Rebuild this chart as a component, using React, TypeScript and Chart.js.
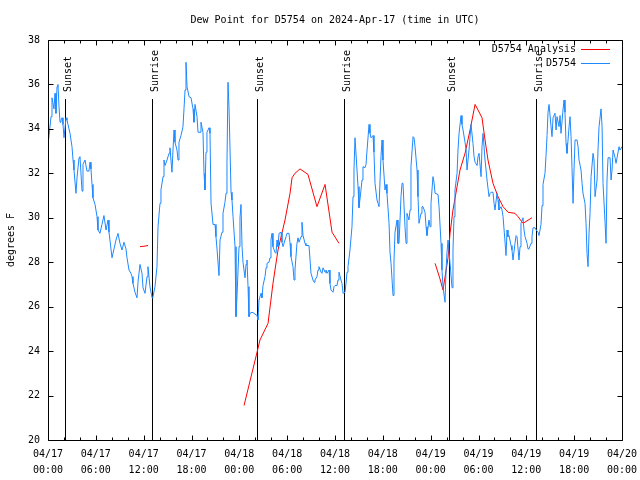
import React, { useEffect, useRef } from 'react';
import { Chart, registerables } from 'chart.js';

Chart.register(...registerables);

const FONT = "'DejaVu Sans Mono', 'Liberation Mono', monospace";

const titleText = 'Dew Point for D5754 on 2024-Apr-17 (time in UTC)';
const yAxisTitle = 'degrees F';
const seriesNames = ['D5754 Analysis', 'D5754'];
const seriesColors = ['#ff0000', '#1e88ff'];

// x axis: hours since 2024-04-17 00:00 UTC
const tickHours = [0, 6, 12, 18, 24, 30, 36, 42, 48, 54, 60, 66, 72];
const tickDates = ['04/17', '04/17', '04/17', '04/17', '04/18', '04/18', '04/18', '04/18', '04/19', '04/19', '04/19', '04/19', '04/20'];
const tickTimes = ['00:00', '06:00', '12:00', '18:00', '00:00', '06:00', '12:00', '18:00', '00:00', '06:00', '12:00', '18:00', '00:00'];
const yTicks = [20, 22, 24, 26, 28, 30, 32, 34, 36, 38];

const sunEventHours = [2.17, 13.08, 26.22, 37.17, 50.34, 61.15];
const sunEventLabels = ['Sunset', 'Sunrise', 'Sunset', 'Sunrise', 'Sunset', 'Sunrise'];
const sunLineTop = 35.33;

const dewHours = [
  0.00, 0.13, 0.38, 0.50, 0.75, 0.88, 1.00, 1.13, 1.25, 1.38,
  1.51, 1.63, 1.76, 1.88, 2.01, 2.26, 2.38, 2.51, 2.76, 3.01,
  3.14, 3.26, 3.51, 3.64, 3.89, 4.01, 4.27, 4.39, 4.64, 4.89,
  5.14, 5.27, 5.39, 5.52, 5.64, 5.90, 6.15, 6.27, 6.52, 6.77,
  7.02, 7.28, 7.53, 7.65, 7.90, 8.03, 8.28, 8.53, 8.78, 9.03,
  9.28, 9.53, 9.78, 9.91, 10.16, 10.41, 10.54, 10.66, 10.91, 11.16,
  11.29, 11.54, 11.79, 11.92, 12.17, 12.42, 12.54, 12.79, 13.05, 13.17,
  13.42, 13.67, 13.80, 14.05, 14.17, 14.43, 14.55, 14.68, 14.93, 15.18,
  15.30, 15.55, 15.68, 15.81, 15.93, 16.18, 16.31, 16.43, 16.68, 16.93,
  17.06, 17.19, 17.31, 17.44, 17.69, 17.94, 18.19, 18.31, 18.44, 18.69,
  18.82, 19.07, 19.19, 19.44, 19.57, 19.69, 19.82, 19.94, 20.20, 20.32,
  20.45, 20.70, 20.95, 21.07, 21.20, 21.45, 21.58, 21.83, 21.95, 22.20,
  22.33, 22.45, 22.58, 22.71, 22.96, 23.08, 23.21, 23.46, 23.58, 23.71,
  23.96, 24.08, 24.21, 24.34, 24.46, 24.71, 24.84, 24.96, 25.09, 25.21,
  25.34, 25.59, 25.84, 26.22, 26.34, 26.47, 26.72, 26.84, 26.97, 27.22,
  27.35, 27.47, 27.72, 27.85, 27.97, 28.10, 28.22, 28.47, 28.60, 28.73,
  28.85, 28.98, 29.23, 29.35, 29.48, 29.73, 29.86, 29.98, 30.23, 30.36,
  30.48, 30.73, 30.86, 30.98, 31.23, 31.36, 31.49, 31.74, 31.86, 31.99,
  32.24, 32.36, 32.74, 32.87, 32.99, 33.24, 33.37, 33.49, 33.74, 33.87,
  33.99, 34.25, 34.37, 34.50, 34.75, 34.87, 35.00, 35.25, 35.37, 35.50,
  35.75, 35.88, 36.00, 36.25, 36.38, 36.50, 36.75, 36.88, 37.01, 37.26,
  37.38, 37.51, 37.63, 37.88, 38.13, 38.26, 38.38, 38.51, 38.76, 38.89,
  39.01, 39.26, 39.39, 39.51, 39.76, 39.89, 40.02, 40.27, 40.39, 40.52,
  40.77, 40.89, 41.02, 41.27, 41.40, 41.52, 41.77, 41.90, 42.02, 42.27,
  42.40, 42.52, 42.78, 42.90, 43.03, 43.28, 43.40, 43.53, 43.78, 43.90,
  44.03, 44.28, 44.41, 44.53, 44.78, 44.91, 45.03, 45.28, 45.41, 45.53,
  45.79, 45.91, 46.04, 46.29, 46.41, 46.54, 46.79, 46.91, 47.04, 47.29,
  47.42, 47.54, 47.79, 47.92, 48.04, 48.29, 48.42, 48.55, 48.92, 49.05,
  49.30, 49.42, 49.55, 49.80, 49.93, 50.05, 50.18, 50.43, 50.68, 50.80,
  50.93, 51.05, 51.31, 51.43, 51.56, 51.81, 51.93, 52.06, 52.31, 52.44,
  52.56, 52.81, 52.94, 53.06, 53.31, 53.44, 53.57, 53.82, 53.94, 54.07,
  54.32, 54.44, 54.57, 54.82, 54.95, 55.07, 55.32, 55.45, 55.57, 55.82,
  55.95, 56.07, 56.32, 56.45, 56.57, 56.83, 56.95, 57.08, 57.33, 57.45,
  57.58, 57.70, 57.83, 58.08, 58.20, 58.33, 58.58, 58.71, 58.83, 59.08,
  59.21, 59.33, 59.58, 59.71, 59.84, 60.09, 60.21, 60.34, 60.59, 60.71,
  60.84, 61.09, 61.22, 61.47, 61.59, 61.84, 61.97, 62.09, 62.34, 62.47,
  62.60, 62.72, 62.85, 63.10, 63.22, 63.35, 63.60, 63.73, 63.85, 64.10,
  64.23, 64.35, 64.60, 64.73, 64.85, 64.98, 65.10, 65.36, 65.48, 65.61,
  65.73, 65.86, 65.98, 66.11, 66.36, 66.49, 66.61, 66.86, 66.99, 67.11,
  67.36, 67.49, 67.61, 67.74, 67.87, 67.99, 68.12, 68.37, 68.49, 68.62,
  68.87, 68.99, 69.12, 69.37, 69.50, 69.62, 69.87, 70.00, 70.12, 70.25,
  70.50, 70.63, 70.75, 70.88, 71.13, 71.25, 71.38, 71.63, 71.75, 72.00,
];

const dewValues = [
  33.3, 33.7, 34.55, 35.4, 34.9, 35.6, 34.7, 35.9, 36.0, 35.0,
  34.3, 34.4, 34.5, 34.2, 33.6, 34.5, 34.4, 34.2, 33.8, 33.2,
  32.6, 32.15, 31.1, 31.8, 32.7, 32.75, 31.2, 32.4, 32.6, 32.1,
  32.1, 32.5, 32.2, 31.5, 30.9, 30.6, 30.05, 29.45, 29.3, 29.7,
  30.1, 29.45, 29.9, 29.35, 28.6, 28.2, 28.6, 29.0, 29.3, 28.85,
  28.55, 28.9, 28.6, 28.2, 27.65, 27.5, 27.35, 27.05, 26.65, 26.4,
  27.1, 27.9, 27.5, 26.85, 26.6, 27.35, 27.8, 26.9, 26.4, 26.45,
  26.9, 27.8, 29.6, 30.65, 31.25, 31.85, 32.6, 32.35, 32.6, 32.9,
  33.15, 32.05, 33.05, 33.95, 33.4, 33.05, 32.6, 33.4, 33.7, 34.1,
  34.9, 35.75, 37.0, 35.9, 35.45, 35.4, 34.9, 34.3, 35.1, 34.55,
  33.85, 33.85, 34.3, 33.85, 32.0, 31.25, 32.95, 33.85, 34.05, 33.8,
  30.65, 29.7, 29.7, 29.15, 28.6, 27.4, 29.0, 29.35, 30.2, 30.7,
  31.1, 32.5, 36.1, 34.9, 31.15, 30.8, 30.05, 28.7, 25.55, 26.5,
  28.7, 30.0, 30.6, 28.7, 28.0, 27.3, 27.9, 28.1, 26.9, 25.55,
  25.7, 25.75, 25.7, 25.6, 25.4, 26.3, 26.6, 26.4, 26.95, 27.35,
  27.75, 27.95, 28.0, 28.2, 29.0, 29.3, 28.7, 28.45, 28.4, 29.0,
  28.7, 29.3, 29.35, 28.9, 28.7, 29.0, 29.15, 29.3, 29.3, 28.85,
  28.25, 27.8, 27.2, 27.65, 28.85, 29.1, 28.9, 29.15, 29.8, 29.2,
  28.85, 28.75, 28.75, 28.1, 27.5, 27.2, 27.1, 27.2, 27.35, 27.65,
  27.8, 27.55, 27.5, 27.75, 27.55, 27.65, 27.5, 27.65, 27.05, 26.75,
  26.65, 26.9, 26.95, 26.95, 27.2, 27.55, 27.2, 27.05, 26.6, 26.65,
  27.05, 27.55, 27.8, 28.55, 29.6, 30.95, 32.15, 33.6, 32.15, 31.4,
  30.45, 31.25, 31.7, 32.3, 32.25, 32.4, 33.05, 34.2, 33.8, 33.6,
  33.7, 32.95, 31.55, 30.8, 30.65, 30.5, 32.75, 33.5, 32.6, 31.25,
  31.5, 31.1, 29.75, 28.45, 27.95, 26.5, 28.1, 29.35, 29.9, 28.85,
  28.85, 30.95, 31.55, 31.55, 29.6, 28.85, 30.2, 29.9, 30.35, 32.3,
  33.65, 33.6, 33.2, 32.15, 30.95, 29.75, 30.2, 30.5, 30.5, 30.25,
  29.6, 29.2, 29.9, 29.6, 30.65, 31.85, 31.6, 31.1, 31.05, 30.5,
  28.85, 27.65, 26.9, 26.2, 27.65, 28.45, 29.0, 27.95, 26.85, 28.55,
  30.05, 31.25, 32.0, 33.05, 33.8, 34.6, 34.2, 33.95, 33.4, 33.05,
  32.15, 33.05, 33.65, 34.2, 33.35, 32.75, 32.5, 32.35, 32.75, 32.9,
  31.85, 33.2, 33.8, 32.6, 32.15, 31.7, 30.95, 31.1, 31.15, 31.15,
  30.65, 30.35, 31.1, 30.8, 30.35, 30.5, 30.35, 30.05, 28.9, 28.3,
  29.45, 29.15, 29.2, 28.75, 28.55, 28.1, 28.85, 29.2, 29.15, 28.1,
  28.7, 29.75, 30.0, 29.45, 29.15, 28.85, 28.6, 28.6, 28.85, 29.15,
  29.55, 29.55, 29.45, 29.35, 29.2, 29.7, 30.55, 31.5, 32.0, 32.8,
  33.7, 34.75, 35.1, 34.1, 33.65, 34.5, 34.7, 33.95, 34.55, 34.1,
  34.6, 33.8, 34.85, 35.3, 34.75, 33.35, 32.9, 34.1, 34.55, 33.65,
  32.25, 30.65, 32.15, 33.5, 33.5, 33.2, 32.6, 32.15, 31.55, 31.1,
  30.65, 29.75, 28.4, 27.8, 29.35, 30.2, 31.85, 32.9, 32.6, 30.95,
  31.7, 33.05, 34.1, 34.9, 34.1, 31.55, 29.8, 28.85, 31.7, 32.7,
  32.7, 31.7, 32.15, 33.05, 32.7, 32.45, 32.7, 33.2, 33.05, 33.2,
];

// Analysis series: null values mark gaps between segments
const analysisHours = [
  11.54, 12.04, 12.54, 18.0,
  24.59, 26.22, 26.59, 27.60, 28.22, 28.85, 29.73, 30.36, 30.61, 30.98, 31.61, 32.61, 33.74, 34.75, 35.63, 36.50,
  42.0,
  48.55, 49.17, 49.55, 50.18, 50.43, 50.80, 51.31, 51.68, 52.31, 52.94, 53.57, 53.94, 54.44, 54.82, 55.19,
  55.82, 56.45, 57.08, 57.70, 58.58, 58.96, 59.58, 60.71,
];
const analysisValues = [
  28.7, 28.72, 28.75, null,
  21.55, 23.95, 24.5, 25.25, 27.05, 28.55, 29.9, 31.1, 31.8, 32.0, 32.2, 31.95, 30.5, 31.5, 29.35, 28.85,
  null,
  27.95, 27.25, 26.75, 28.2, 29.3, 30.35, 31.4, 32.15, 32.9, 33.95, 35.1, 34.85, 34.5, 33.5, 32.6,
  31.55, 30.95, 30.5, 30.25, 30.2, 30.05, 29.75, 30.0,
];

const gnuFrame = {
  id: 'gnuFrame',
  beforeDatasetsDraw(chart: any) {
    const { ctx, chartArea: a, scales } = chart;
    const xs = scales.x;
    const ys = scales.y;
    ctx.save();
    ctx.strokeStyle = '#000';
    ctx.fillStyle = '#000';
    ctx.lineWidth = 1;
    ctx.font = `10px ${FONT}`;
    sunEventHours.forEach((h, i) => {
      const px = Math.round(xs.getPixelForValue(h)) + 0.5;
      const pt = Math.round(ys.getPixelForValue(sunLineTop));
      ctx.beginPath();
      ctx.moveTo(px, pt);
      ctx.lineTo(px, a.bottom);
      ctx.stroke();
      ctx.save();
      ctx.translate(px + 5, pt - 7);
      ctx.rotate(-Math.PI / 2);
      ctx.textAlign = 'left';
      ctx.textBaseline = 'alphabetic';
      ctx.fillText(sunEventLabels[i], 0, 0);
      ctx.restore();
    });
    ctx.restore();
  },
  afterDraw(chart: any) {
    const { ctx, chartArea: a, scales } = chart;
    const xs = scales.x;
    const ys = scales.y;
    const L = Math.round(a.left) + 0.5;
    const R = Math.round(a.right) + 0.5;
    const T = Math.round(a.top) + 0.5;
    const B = Math.round(a.bottom) + 0.5;
    ctx.save();
    ctx.strokeStyle = '#000';
    ctx.lineWidth = 1;
    ctx.beginPath();
    ctx.rect(L, T, R - L, B - T);
    ctx.stroke();
    ctx.beginPath();
    // x ticks: major every 6 hours, minor every 2 hours
    for (let h = 0; h <= 72; h += 2) {
      const px = Math.round(xs.getPixelForValue(h)) + 0.5;
      const len = h % 6 === 0 ? 5 : 3;
      ctx.moveTo(px, B);
      ctx.lineTo(px, B - len);
      ctx.moveTo(px, T);
      ctx.lineTo(px, T + len);
    }
    ys.ticks.forEach((t: any) => {
      const py = Math.round(ys.getPixelForValue(t.value)) + 0.5;
      ctx.moveTo(L, py);
      ctx.lineTo(L + 5, py);
      ctx.moveTo(R, py);
      ctx.lineTo(R - 5, py);
    });
    ctx.stroke();

    // key (legend) inside the plot, gnuplot style
    ctx.font = `10px ${FONT}`;
    ctx.textAlign = 'right';
    ctx.textBaseline = 'middle';
    chart.data.datasets.forEach((ds: any, i: number) => {
      const cy = Math.round(a.top + 9 + i * 13.5) + 0.5;
      ctx.fillStyle = '#000';
      ctx.fillText(ds.label, a.right - 46, cy);
      ctx.strokeStyle = ds.borderColor;
      ctx.beginPath();
      ctx.moveTo(a.right - 41, cy);
      ctx.lineTo(a.right - 12, cy);
      ctx.stroke();
    });
    ctx.restore();
  },
};

export default function App() {
  const canvasRef = useRef<HTMLCanvasElement | null>(null);

  useEffect(() => {
    if (!canvasRef.current) return;
    const dewPts = dewHours.map((h, i) => ({ x: h, y: dewValues[i] }));
    const analysisPts = analysisHours.map((h, i) => ({ x: h, y: analysisValues[i] }));
    const font = { family: FONT, size: 10, weight: 'normal' as const };

    const chart = new Chart(canvasRef.current, {
      type: 'line',
      data: {
        datasets: [
          {
            label: seriesNames[0],
            data: analysisPts as any,
            borderColor: seriesColors[0],
            backgroundColor: seriesColors[0],
            borderWidth: 1,
            pointRadius: 0,
            tension: 0,
            spanGaps: false,
            order: 2,
          },
          {
            label: seriesNames[1],
            data: dewPts as any,
            borderColor: seriesColors[1],
            backgroundColor: seriesColors[1],
            borderWidth: 1,
            pointRadius: 0,
            tension: 0,
            order: 1,
          },
        ],
      },
      options: {
        responsive: false,
        animation: false,
        devicePixelRatio: 1,
        layout: { padding: { left: 0, right: 18, top: 0, bottom: 0 } },
        plugins: {
          legend: { display: false },
          tooltip: { enabled: false },
          title: {
            display: true,
            text: titleText,
            fullSize: false,
            color: '#000',
            font,
            padding: { top: 14, bottom: 14 },
          },
        },
        scales: {
          x: {
            type: 'linear',
            min: 0,
            max: 72,
            afterBuildTicks: (s: any) => {
              s.ticks = tickHours.map((v) => ({ value: v }));
            },
            afterFit: (s: any) => {
              s.height = 40;
              s.paddingLeft = 0;
              s.paddingRight = 0;
            },
            grid: { display: false, drawTicks: false },
            border: { display: false },
            ticks: {
              autoSkip: false,
              maxRotation: 0,
              minRotation: 0,
              padding: 6,
              color: '#000',
              font: { ...font, lineHeight: 1.6 },
              callback: (_v: any, i: number) => [tickDates[i], tickTimes[i]],
            },
          },
          y: {
            type: 'linear',
            min: 20,
            max: 38,
            afterBuildTicks: (s: any) => {
              s.ticks = yTicks.map((v) => ({ value: v }));
            },
            afterFit: (s: any) => {
              s.width = 48;
              s.paddingTop = 0;
              s.paddingBottom = 0;
            },
            grid: { display: false, drawTicks: false },
            border: { display: false },
            ticks: { padding: 8, color: '#000', font },
            title: {
              display: true,
              text: yAxisTitle,
              color: '#000',
              font,
              padding: { top: 5, bottom: 0 },
            },
          },
        },
      },
      plugins: [gnuFrame],
    });
    return () => chart.destroy();
  }, []);

  return (
    <div style={{ position: 'absolute', left: 0, top: 0, width: 640, height: 480, background: '#fff' }}>
      <canvas ref={canvasRef} width={640} height={480} />
    </div>
  );
}
